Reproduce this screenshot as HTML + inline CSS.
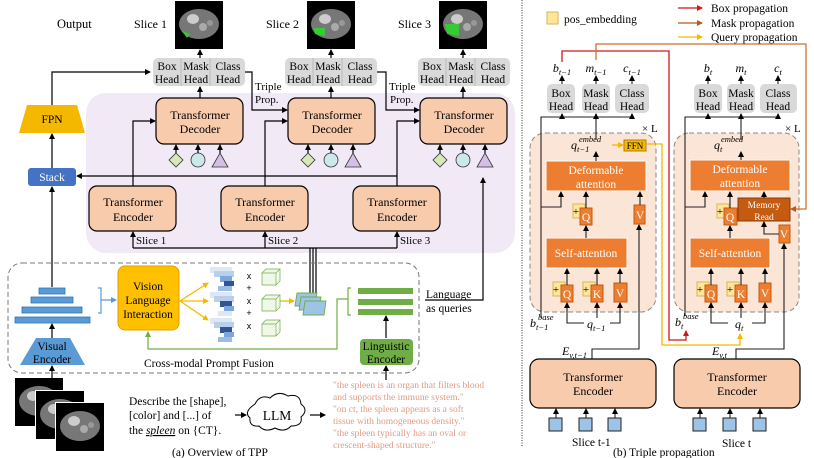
<!DOCTYPE html>
<html><head><meta charset="utf-8"><style>
html,body{margin:0;padding:0;background:#fff;}
svg{display:block;font-family:"Liberation Serif",serif;}
</style></head><body>
<svg width="814" height="458" viewBox="0 0 814 458" xmlns="http://www.w3.org/2000/svg">
<defs>
<marker id="a" markerWidth="6" markerHeight="6" refX="5" refY="3" orient="auto" markerUnits="userSpaceOnUse"><path d="M0,0 L6,3 L0,6z" fill="#000"/></marker>
<marker id="ay" markerWidth="6" markerHeight="6" refX="5" refY="3" orient="auto" markerUnits="userSpaceOnUse"><path d="M0,0 L6,3 L0,6z" fill="#f5b800"/></marker>
<marker id="ar" markerWidth="6" markerHeight="6" refX="5" refY="3" orient="auto" markerUnits="userSpaceOnUse"><path d="M0,0 L6,3 L0,6z" fill="#d01818"/></marker>
<marker id="ab" markerWidth="6" markerHeight="6" refX="5" refY="3" orient="auto" markerUnits="userSpaceOnUse"><path d="M0,0 L6,3 L0,6z" fill="#b85a20"/></marker>
<marker id="ag" markerWidth="6" markerHeight="6" refX="5" refY="3" orient="auto" markerUnits="userSpaceOnUse"><path d="M0,0 L6,3 L0,6z" fill="#70ad47"/></marker>
<marker id="abl" markerWidth="6" markerHeight="6" refX="5" refY="3" orient="auto" markerUnits="userSpaceOnUse"><path d="M0,0 L6,3 L0,6z" fill="#5b9bd5"/></marker>
<g id="ct"><rect width="48" height="48" fill="#000"/><ellipse cx="24" cy="23" rx="20" ry="15" fill="#777"/><ellipse cx="18" cy="18" rx="6" ry="5" fill="#ccc"/><circle cx="28" cy="26" r="4" fill="#aaa"/><circle cx="35" cy="22" r="3" fill="#999"/></g>
</defs>

<!-- LEFT PANEL -->
<rect x="86" y="93" width="429" height="160" rx="20" fill="#f1eaf6"/>
<text x="57" y="28" font-size="12.5">Output</text>
<g font-size="12">
<text x="134" y="28">Slice 1</text><text x="266" y="28">Slice 2</text><text x="398" y="28">Slice 3</text>
</g>
<use href="#ct" x="175" y="1"/><use href="#ct" x="307" y="1"/><use href="#ct" x="439" y="1"/>
<path d="M182,31 l8,3 l-3,4z" fill="#3c3"/><path d="M313,28 l12,0 l0,8 l-10,-2z" fill="#3c3"/><path d="M445,24 l14,0 l0,12 l-12,-2z" fill="#3c3"/>
<g stroke="#000" stroke-width="1.2" marker-end="url(#a)">
<line x1="200" y1="58" x2="200" y2="50"/><line x1="331" y1="58" x2="331" y2="50"/><line x1="463" y1="58" x2="463" y2="50"/>
</g>
<!-- heads -->
<g font-size="11.5" text-anchor="middle">
<g transform="translate(153,58)"><rect width="92" height="28" rx="5" fill="#d9d9d9"/><line x1="28" y1="0" x2="28" y2="28" stroke="#bbb"/><line x1="57" y1="0" x2="57" y2="28" stroke="#bbb"/><text x="14" y="12">Box</text><text x="14" y="25">Head</text><text x="43" y="12">Mask</text><text x="43" y="25">Head</text><text x="75" y="12">Class</text><text x="75" y="25">Head</text></g>
<g transform="translate(285,58)"><rect width="92" height="28" rx="5" fill="#d9d9d9"/><line x1="28" y1="0" x2="28" y2="28" stroke="#bbb"/><line x1="57" y1="0" x2="57" y2="28" stroke="#bbb"/><text x="14" y="12">Box</text><text x="14" y="25">Head</text><text x="43" y="12">Mask</text><text x="43" y="25">Head</text><text x="75" y="12">Class</text><text x="75" y="25">Head</text></g>
<g transform="translate(418,58)"><rect width="92" height="28" rx="5" fill="#d9d9d9"/><line x1="28" y1="0" x2="28" y2="28" stroke="#bbb"/><line x1="57" y1="0" x2="57" y2="28" stroke="#bbb"/><text x="14" y="12">Box</text><text x="14" y="25">Head</text><text x="43" y="12">Mask</text><text x="43" y="25">Head</text><text x="75" y="12">Class</text><text x="75" y="25">Head</text></g>
</g>
<!-- decoders & encoders -->
<g fill="#f8cbad" stroke="#000" stroke-width="1.2">
<rect x="156" y="98" width="87" height="46" rx="8"/><rect x="288" y="98" width="87" height="46" rx="8"/><rect x="420" y="98" width="87" height="46" rx="8"/>
<rect x="89" y="186" width="87" height="45" rx="8"/><rect x="221" y="186" width="87" height="45" rx="8"/><rect x="353" y="186" width="87" height="45" rx="8"/>
</g>
<g font-size="12" text-anchor="middle">
<text x="200" y="119">Transformer</text><text x="200" y="133">Decoder</text>
<text x="332" y="119">Transformer</text><text x="332" y="133">Decoder</text>
<text x="464" y="119">Transformer</text><text x="464" y="133">Decoder</text>
<text x="133" y="206">Transformer</text><text x="133" y="221">Encoder</text>
<text x="265" y="206">Transformer</text><text x="265" y="221">Encoder</text>
<text x="397" y="206">Transformer</text><text x="397" y="221">Encoder</text>
</g>
<g font-size="11"><text x="136" y="244">Slice 1</text><text x="268" y="244">Slice 2</text><text x="400" y="244">Slice 3</text>
<text x="255" y="90">Triple</text><text x="255" y="103">Prop.</text><text x="389" y="90">Triple</text><text x="390" y="103">Prop.</text></g>
<!-- shapes -->
<g stroke="#333" stroke-width="0.8">
<path d="M176,153 l7,7 l-7,7 l-7,-7z" fill="#d5e8b5"/><circle cx="198" cy="160" r="7" fill="#cbe8ec"/><path d="M220,153 l8,14 l-16,0z" fill="#d4c0e6"/>
<path d="M308,153 l7,7 l-7,7 l-7,-7z" fill="#d5e8b5"/><circle cx="331" cy="160" r="7" fill="#cbe8ec"/><path d="M353,153 l8,14 l-16,0z" fill="#d4c0e6"/>
<path d="M440,153 l7,7 l-7,7 l-7,-7z" fill="#d5e8b5"/><circle cx="463" cy="160" r="7" fill="#cbe8ec"/><path d="M485,153 l8,14 l-16,0z" fill="#d4c0e6"/>
</g>
<g stroke="#000" stroke-width="1.2" fill="none" marker-end="url(#a)">
<line x1="176" y1="153" x2="176" y2="145"/><line x1="198" y1="153" x2="198" y2="145"/><line x1="220" y1="153" x2="220" y2="145"/>
<line x1="308" y1="153" x2="308" y2="145"/><line x1="331" y1="153" x2="331" y2="145"/><line x1="353" y1="153" x2="353" y2="145"/>
<line x1="440" y1="153" x2="440" y2="145"/><line x1="463" y1="153" x2="463" y2="145"/><line x1="485" y1="153" x2="485" y2="145"/>
<line x1="200" y1="98" x2="200" y2="87"/><line x1="331" y1="98" x2="331" y2="87"/><line x1="463" y1="98" x2="463" y2="87"/>
<polyline points="133,186 133,121 155,121"/><polyline points="265,186 265,121 287,121"/><polyline points="397,186 397,121 419,121"/>
<polyline points="245,72 252,72 252,110 287,110"/><polyline points="377,72 386,72 386,110 419,110"/>
<polyline points="397,176 77,176"/>
<polyline points="133,248 133,232"/><polyline points="265,248 265,232"/><polyline points="397,248 397,232"/>
<polyline points="52,105 52,72 150,72"/>
<line x1="52" y1="168" x2="52" y2="134"/>
<line x1="52" y1="287" x2="52" y2="187"/>
<polyline points="425,300 483,300 483,178"/>
<line x1="52" y1="338" x2="52" y2="324"/>
<line x1="52" y1="380" x2="52" y2="366"/>
<line x1="386" y1="380" x2="386" y2="366"/>
<line x1="386" y1="338" x2="386" y2="316"/>
<line x1="235" y1="415" x2="246" y2="415"/><line x1="310" y1="415" x2="325" y2="415"/>
</g>
<g stroke="#000" stroke-width="1.2" fill="none">
<polyline points="133,248 397,248"/>
<line x1="310" y1="248" x2="310" y2="295"/><line x1="313" y1="248" x2="313" y2="297"/><line x1="316" y1="248" x2="316" y2="300"/>
</g>
<!-- stack & FPN -->
<rect x="28" y="168" width="48" height="18" rx="3" fill="#4472c4"/><text x="52" y="181" font-size="11.5" fill="#fff" text-anchor="middle">Stack</text>
<path d="M27,105 L77,105 L85,133 L19,133z" fill="#f5b800"/><text x="52" y="123" font-size="11.5" text-anchor="middle">FPN</text>
<!-- fusion region -->
<rect x="8" y="263" width="411" height="110" rx="14" fill="none" stroke="#777" stroke-dasharray="5,3"/>
<g fill="#5b9bd5" stroke="#2e75b6" stroke-width="0.8">
<rect x="39" y="288" width="26" height="6"/><rect x="31" y="297" width="42" height="6"/><rect x="22" y="307" width="60" height="6"/><rect x="15" y="317" width="75" height="6"/>
</g>
<path d="M36,338 L70,338 L85,365 L20,365z" fill="#5b9bd5"/>
<text x="52" y="350" font-size="11.5" text-anchor="middle">Visual</text><text x="52" y="363" font-size="11.5" text-anchor="middle">Encoder</text>
<path d="M98,288 h3 v25 h-3 M101,300 h15" stroke="#5b9bd5" fill="none" stroke-width="1.2" marker-end="url(#abl)"/>
<rect x="118" y="266" width="61" height="64" rx="7" fill="#ffc000" stroke="#e0a000"/>
<g font-size="11.5" text-anchor="middle"><text x="148" y="290">Vision</text><text x="148" y="304">Language</text><text x="148" y="318">Interaction</text></g>
<g stroke="#f5b800" stroke-width="1.3" marker-end="url(#ay)"><line x1="180" y1="301" x2="208" y2="283"/><line x1="180" y1="301" x2="208" y2="301"/><line x1="180" y1="301" x2="208" y2="320"/>
<line x1="280" y1="301" x2="294" y2="301"/></g>
<g>
<g transform="translate(210,267)"><rect width="22" height="6" fill="#dce8f6"/><rect x="4" y="4" width="20" height="6" fill="#b9d0ec"/><rect x="10" y="9" width="12" height="6" fill="#7fa6d8"/><rect x="14" y="14" width="10" height="5" fill="#2f5597"/><rect x="8" y="19" width="14" height="5" fill="#9dbce3"/></g>
<g transform="translate(210,292)"><rect width="22" height="6" fill="#dce8f6"/><rect x="4" y="4" width="20" height="6" fill="#b9d0ec"/><rect x="10" y="9" width="12" height="6" fill="#2f5597"/><rect x="14" y="14" width="10" height="5" fill="#7fa6d8"/><rect x="8" y="19" width="14" height="5" fill="#dce8f6"/></g>
<g transform="translate(210,318)"><rect width="22" height="6" fill="#dce8f6"/><rect x="4" y="4" width="20" height="6" fill="#b9d0ec"/><rect x="10" y="9" width="12" height="6" fill="#2f5597"/><rect x="14" y="14" width="10" height="5" fill="#7fa6d8"/><rect x="8" y="19" width="14" height="5" fill="#9dbce3"/></g>
</g>
<g font-size="9" font-family="Liberation Sans,sans-serif" text-anchor="middle"><text x="249" y="279">x</text><text x="249" y="291">+</text><text x="249" y="304">x</text><text x="249" y="316">+</text><text x="249" y="329">x</text></g>
<g fill="#f0f8e8" stroke="#70ad47" stroke-width="0.7">
<path d="M262,273 l14,0 l4,-4 l-14,0z M262,273 v12 h14 v-12 M276,285 l4,-4 v-12"/>
<path d="M262,299 l14,0 l4,-4 l-14,0z M262,299 v12 h14 v-12 M276,311 l4,-4 v-12"/>
<path d="M262,324 l14,0 l4,-4 l-14,0z M262,324 v12 h14 v-12 M276,336 l4,-4 v-12"/>
</g>
<g fill="#9dc3e6" stroke="#70ad47" stroke-width="0.9">
<path d="M297,293 h20 l-2,13 h-20z"/><path d="M301,297 h20 l-2,13 h-20z"/><path d="M305,301 h21 l-2,14 h-21z"/>
</g>
<path d="M351,288 h-3 v27 h3 M348,299 h-11 v50 h-189 v-17" stroke="#70ad47" fill="none" stroke-width="1.2" marker-end="url(#ag)"/>
<g fill="#70ad47"><rect x="358" y="288" width="55" height="6"/><rect x="358" y="299" width="55" height="6"/><rect x="358" y="309" width="55" height="6"/></g>
<rect x="360" y="339" width="53" height="26" rx="4" fill="#70ad47"/>
<g font-size="11.5" text-anchor="middle"><text x="386" y="350">Linguistic</text><text x="386" y="363">Encoder</text></g>
<text x="144" y="367" font-size="11.5">Cross-modal Prompt Fusion</text>
<text x="426" y="298" font-size="11.5">Language</text><text x="426" y="312" font-size="11.5">as queries</text>
<use href="#ct" x="15" y="378"/><rect x="35" y="390" width="50" height="50" fill="#fff"/><use href="#ct" x="36" y="391"/><rect x="55" y="402" width="50" height="50" fill="#fff"/><use href="#ct" x="56" y="403"/>
<g font-size="11.5"><text x="129" y="405">Describe the [shape],</text><text x="129" y="419">[color]  and  [...]  of</text><text x="129" y="434">the <tspan font-style="italic" text-decoration="underline">spleen</tspan> on {CT}.</text></g>
<path d="M255,404 q5,-10 15,-6 q8,-8 18,-2 q12,-3 13,8 q8,6 0,13 q2,9 -10,9 q-6,7 -16,2 q-10,5 -16,-2 q-10,1 -9,-8 q-7,-6 5,-14z" fill="#fff" stroke="#000"/>
<text x="277" y="420" font-size="13.5" text-anchor="middle">LLM</text>
<g font-size="9.5" fill="#e39a80"><text x="333" y="388">"the spleen is an organ that filters blood</text><text x="333" y="400">and supports the immune system."</text><text x="333" y="412">"on ct, the spleen appears as a soft</text><text x="333" y="424">tissue with homogeneous density."</text><text x="333" y="436">"the spleen typically has an oval or</text><text x="333" y="448">crescent-shaped structure."</text></g>
<text x="172" y="456" font-size="11.5">(a) Overview of TPP</text>
<line x1="522" y1="0" x2="522" y2="446" stroke="#333" stroke-dasharray="1,1.5"/>

<!-- RIGHT PANEL -->
<rect x="547" y="12" width="11" height="12" fill="#ffe699" stroke="#d6b656"/>
<text x="564" y="23" font-size="11.5">pos_embedding</text>
<line x1="678" y1="8" x2="702" y2="8" stroke="#d01818" stroke-width="1.3" marker-end="url(#ar)"/>
<line x1="678" y1="23" x2="702" y2="23" stroke="#b85a20" stroke-width="1.3" marker-end="url(#ab)"/>
<line x1="678" y1="37" x2="702" y2="37" stroke="#f5b800" stroke-width="1.3" marker-end="url(#ay)"/>
<g font-size="11.5"><text x="711" y="12">Box propagation</text><text x="711" y="27">Mask propagation</text><text x="711" y="41">Query propagation</text></g>
<!-- dashed boxes -->
<rect x="530" y="133" width="126" height="179" rx="15" fill="#fbe5d6" stroke="#888" stroke-dasharray="5,3"/>
<rect x="674" y="133" width="125" height="179" rx="15" fill="#fbe5d6" stroke="#888" stroke-dasharray="5,3"/>
<g font-size="11"><text x="642" y="132">× L</text><text x="785" y="132">× L</text></g>
<!-- heads -->
<g fill="#d9d9d9"><rect x="547" y="84" width="28" height="29" rx="5"/><rect x="582" y="84" width="28" height="29" rx="5"/><rect x="615" y="84" width="34" height="29" rx="5"/>
<rect x="694" y="84" width="28" height="29" rx="5"/><rect x="727" y="84" width="28" height="29" rx="5"/><rect x="760" y="84" width="37" height="29" rx="5"/></g>
<g font-size="11.5" text-anchor="middle">
<text x="561" y="97">Box</text><text x="561" y="110">Head</text><text x="596" y="97">Mask</text><text x="596" y="110">Head</text><text x="632" y="97">Class</text><text x="632" y="110">Head</text>
<text x="708" y="97">Box</text><text x="708" y="110">Head</text><text x="741" y="97">Mask</text><text x="741" y="110">Head</text><text x="778" y="97">Class</text><text x="778" y="110">Head</text>
</g>
<g font-size="12" font-style="italic" text-anchor="middle">
<text x="562" y="72">b<tspan font-size="8.5" dy="3">t−1</tspan></text>
<text x="596" y="72">m<tspan font-size="8.5" dy="3">t−1</tspan></text>
<text x="632" y="72">c<tspan font-size="8.5" dy="3">t−1</tspan></text>
<text x="708" y="72">b<tspan font-size="8.5" dy="3">t</tspan></text>
<text x="741" y="72">m<tspan font-size="8.5" dy="3">t</tspan></text>
<text x="778" y="72">c<tspan font-size="8.5" dy="3">t</tspan></text>
</g>
<g font-size="12" font-style="italic">
<text x="571" y="149">q<tspan font-size="8.5" dy="3">t−1</tspan></text><text x="579" y="142" font-size="8.5">embed</text>
<text x="714" y="149">q<tspan font-size="8.5" dy="3">t</tspan></text><text x="721" y="142" font-size="8.5">embed</text>
<text x="587" y="328">q<tspan font-size="8.5" dy="3">t−1</tspan></text>
<text x="735" y="328">q<tspan font-size="8.5" dy="3">t</tspan></text>
<text x="530" y="327">b<tspan font-size="8.5" dy="3">t−1</tspan></text><text x="538" y="320" font-size="8.5">base</text>
<text x="675" y="326">b<tspan font-size="8.5" dy="3">t</tspan></text><text x="683" y="319" font-size="8.5">base</text>
<text x="562" y="355">E<tspan font-size="8.5" dy="3">v,t−1</tspan></text>
<text x="712" y="355">E<tspan font-size="8.5" dy="3">v,t</tspan></text>
</g>
<!-- orange blocks -->
<g fill="#ed7d31" stroke="#fff" stroke-width="1">
<rect x="546" y="161" width="100" height="30"/><rect x="546" y="238" width="81" height="30"/>
<rect x="690" y="160" width="100" height="31"/><rect x="690" y="238" width="80" height="30"/>
</g>
<rect x="738" y="198" width="52" height="23" fill="#c55a11" stroke="#8a3a08"/>
<g font-size="11.5" fill="#fff" text-anchor="middle">
<text x="596" y="174">Deformable</text><text x="596" y="188">attention</text><text x="586" y="257">Self-attention</text>
<text x="740" y="173">Deformable</text><text x="740" y="187">attention</text><text x="730" y="257">Self-attention</text>
<text x="764" y="208" font-size="9.5">Memory</text><text x="764" y="220" font-size="9.5">Read</text>
</g>
<!-- small Q K V -->
<g fill="#ffe699" stroke="#d6b656"><rect x="573" y="204" width="12" height="14"/><rect x="553" y="282" width="12" height="14"/><rect x="583" y="282" width="12" height="14"/>
<rect x="717" y="204" width="12" height="14"/><rect x="697" y="282" width="12" height="14"/><rect x="727" y="282" width="12" height="14"/></g>
<g fill="#ed7d31" stroke="#c55a11"><rect x="580" y="208" width="12" height="17"/><rect x="634" y="205" width="11" height="19"/>
<rect x="561" y="285" width="12" height="17"/><rect x="591" y="285" width="12" height="17"/><rect x="614" y="283" width="13" height="19"/>
<rect x="724" y="208" width="13" height="17"/><rect x="779" y="225" width="11" height="18"/>
<rect x="705" y="285" width="12" height="17"/><rect x="735" y="285" width="12" height="17"/><rect x="759" y="283" width="12" height="19"/></g>
<g font-size="11" text-anchor="middle">
<text x="576" y="215">+</text><text x="556" y="293">+</text><text x="586" y="293">+</text><text x="720" y="215">+</text><text x="700" y="293">+</text><text x="730" y="293">+</text>
</g>
<g font-size="11.5" fill="#fff" text-anchor="middle">
<text x="586" y="221">Q</text><text x="640" y="219">V</text><text x="567" y="298">Q</text><text x="597" y="298">K</text><text x="620" y="297">V</text>
<text x="730" y="221">Q</text><text x="784" y="238">V</text><text x="711" y="298">Q</text><text x="741" y="298">K</text><text x="765" y="297">V</text>
</g>
<rect x="624" y="140" width="22" height="11" fill="#f5b800" stroke="#b08000"/><text x="635" y="149" font-size="9" text-anchor="middle">FFN</text>
<!-- black arrows right panel -->
<g stroke="#222" stroke-width="1.1" fill="none" marker-end="url(#a)">
<line x1="562" y1="84" x2="562" y2="76"/><line x1="596" y1="84" x2="596" y2="76"/><line x1="632" y1="84" x2="632" y2="76"/>
<line x1="708" y1="84" x2="708" y2="76"/><line x1="741" y1="84" x2="741" y2="76"/><line x1="778" y1="84" x2="778" y2="76"/>
<polyline points="541,318 541,117 632,117 632,114"/><line x1="562" y1="117" x2="562" y2="114"/>
<line x1="596" y1="140" x2="596" y2="114"/>
<polyline points="685,316 685,117 778,117 778,114"/><line x1="708" y1="117" x2="708" y2="114"/>
<line x1="741" y1="140" x2="741" y2="114"/>
<line x1="596" y1="161" x2="596" y2="152"/><line x1="741" y1="160" x2="741" y2="152"/>
<polyline points="541,207 561,207 561,192"/><line x1="586" y1="208" x2="586" y2="192"/><line x1="640" y1="205" x2="640" y2="192"/>
<polyline points="685,207 705,207 705,192"/><line x1="730" y1="208" x2="730" y2="192"/><line x1="764" y1="198" x2="764" y2="192"/>
<polyline points="779,234 764,234 764,222"/>
<line x1="586" y1="238" x2="586" y2="226"/><line x1="730" y1="238" x2="730" y2="226"/>
<line x1="567" y1="285" x2="567" y2="269"/><line x1="597" y1="285" x2="597" y2="269"/><line x1="620" y1="283" x2="620" y2="269"/>
<line x1="711" y1="285" x2="711" y2="269"/><line x1="741" y1="285" x2="741" y2="269"/><line x1="765" y1="283" x2="765" y2="269"/>
<polyline points="584,323 567,323 567,303"/><line x1="597" y1="318" x2="597" y2="303"/><polyline points="610,323 620,323 620,303"/>
<polyline points="728,323 711,323 711,303"/><line x1="741" y1="318" x2="741" y2="303"/><polyline points="752,323 765,323 765,303"/>
<polyline points="592,359 592,349 639,349 639,225"/>
<polyline points="736,359 736,349 784,349 784,244"/>
<line x1="556" y1="418" x2="556" y2="409"/><line x1="586" y1="418" x2="586" y2="409"/><line x1="615" y1="418" x2="615" y2="409"/>
<line x1="700" y1="418" x2="700" y2="409"/><line x1="730" y1="418" x2="730" y2="409"/><line x1="760" y1="418" x2="760" y2="409"/>
</g>
<!-- encoders right -->
<rect x="530" y="359" width="126" height="49" rx="9" fill="#f8cbad" stroke="#000" stroke-width="1.2"/>
<rect x="674" y="359" width="126" height="49" rx="9" fill="#f8cbad" stroke="#000" stroke-width="1.2"/>
<g font-size="12" text-anchor="middle"><text x="593" y="381">Transformer</text><text x="593" y="395">Encoder</text><text x="737" y="381">Transformer</text><text x="737" y="395">Encoder</text></g>
<g fill="#9dc3e6" stroke="#222"><rect x="549" y="418" width="13" height="13"/><rect x="579" y="418" width="13" height="13"/><rect x="608" y="418" width="13" height="13"/>
<rect x="693" y="418" width="13" height="13"/><rect x="723" y="418" width="13" height="13"/><rect x="753" y="418" width="13" height="13"/></g>
<g font-size="11.5"><text x="572" y="446">Slice t-1</text><text x="722" y="447">Slice t</text><text x="613" y="456">(b) Triple propagation</text></g>
<!-- propagation lines -->
<polyline points="562,62 562,51 669,51 669,340 686,340 686,331" fill="none" stroke="#d01818" stroke-width="1.3" marker-end="url(#ar)"/>
<polyline points="596,60 596,44 806,44 806,209 791,209" fill="none" stroke="#d07030" stroke-width="1.3" marker-end="url(#ab)"/>
<polyline points="647,144 662,144 662,345 740,345 740,334" fill="none" stroke="#f5b800" stroke-width="1.3" marker-end="url(#ay)"/>
<line x1="612" y1="145" x2="623" y2="145" stroke="#f5b800" stroke-width="1.3" marker-end="url(#ay)"/>
</svg>
</body></html>
